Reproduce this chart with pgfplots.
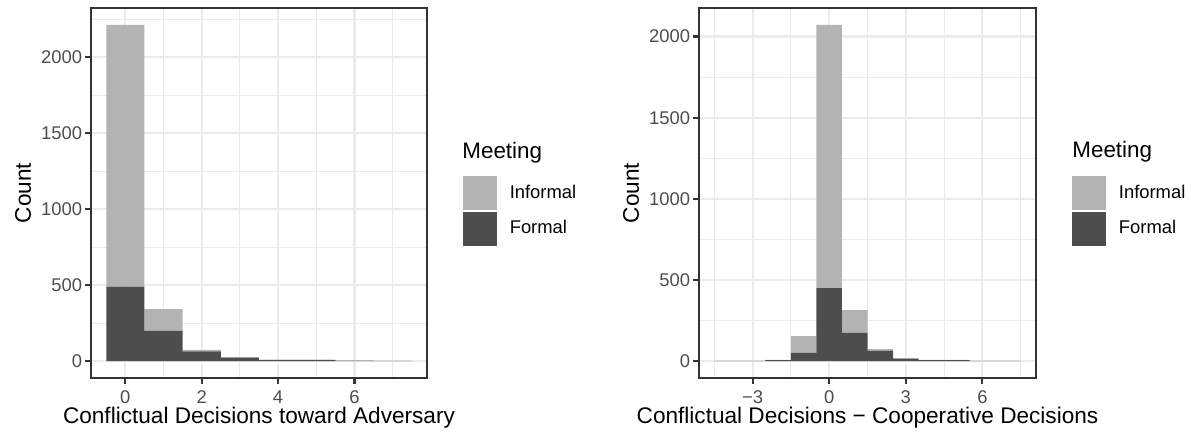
\documentclass[border=0pt]{standalone}
\usepackage{pgfplots}
\pgfplotsset{compat=1.18}
\usepackage{fontspec}
\setmainfont{Liberation Sans}
\definecolor{informal}{HTML}{B3B3B3}
\definecolor{formal}{HTML}{4D4D4D}
\definecolor{gridc}{HTML}{EBEBEB}
\definecolor{border}{HTML}{333333}
\definecolor{ticklab}{HTML}{4D4D4D}

\pgfplotstableread{
x formal informal
0 490 1723
1 199 144
2 64 11
3 23 4
4 8 1
5 8 1
6 3 0
7 2 0
}\lefttab

\pgfplotstableread{
x formal informal
-4 2 0
-3 2 0
-2 6 2
-1 51 104
0 450 1622
1 174 141
2 65 10
3 14 5
4 7 1
5 7 1
6 2 0
7 2 0
}\righttab

\pgfplotsset{
 ggstyle/.style={
  scale only axis, width=168pt, height=185pt,
  clip=false,
  axis line style={border, line width=1.07pt},
  tick align=outside, tick pos=left,
  major tick length=2.75pt, minor tick length=0pt,
  every tick/.style={border, line width=1.07pt},
  grid=both,
  major grid style={gridc, line width=1.07pt},
  minor grid style={gridc, line width=0.53pt},
  ticklabel style={font=\fontsize{9.2}{11}\selectfont, text=ticklab},
  yticklabel style={xshift=1.8pt},
  every axis x label/.style={at={(axis description cs:0.5,-0.1243)}, anchor=base,
     font=\fontsize{11.3}{13.5}\selectfont, text=black},
  every axis y label/.style={at={(axis description cs:-0.1786,0.5)}, rotate=90, anchor=base,
     font=\fontsize{11.3}{13.5}\selectfont, text=black},
  ylabel={Count},
  ytick={0,500,1000,1500,2000},
  yticklabels={0,500,1000,1500,2000},
  ybar stacked, bar width=1,
  legend style={at={(rel axis cs:1.1071,0.5459)}, anchor=north west,
    draw=none, fill=none, inner sep=0pt, outer sep=0pt,
    row sep=1pt, column sep=6.5pt,
    font=\fontsize{9.2}{11}\selectfont,
    nodes={inner sep=0pt, outer sep=0pt}},
  legend cell align=left,
 }
}

\begin{document}
\begin{tikzpicture}
\path[use as bounding box] (-45.5pt,-29pt) rectangle (550pt,189pt);
\begin{axis}[ggstyle, at={(0pt,0pt)}, anchor=south west,
  xmin=-0.9, xmax=7.9, ymin=-110.65, ymax=2323.65,
  xtick={0,2,4,6}, xticklabels={0,2,4,6},
  minor xtick={1,3,5,7},
  minor ytick={250,750,1250,1750,2250},
  xlabel={Conflictual Decisions toward Adversary}]
\addlegendimage{legend image code/.code={\fill[informal] (0pt,-8.25pt) rectangle (16.5pt,8.25pt);}}
\addlegendentry{Informal}
\addlegendimage{legend image code/.code={\fill[formal] (0pt,-8.25pt) rectangle (16.5pt,8.25pt);}}
\addlegendentry{Formal}
\addplot[fill=formal, draw=none, forget plot] table[x=x, y=formal] {\lefttab};
\addplot[fill=informal, draw=none, forget plot] table[x=x, y=informal] {\lefttab};
\node[anchor=base west, inner sep=0pt, font=\fontsize{11.2}{13.4}\selectfont] at (rel axis cs:1.1042,0.5946) {Meeting};
\end{axis}
\begin{axis}[ggstyle, at={(304pt,0pt)}, anchor=south west, width=168.5pt,
  xmin=-5.1, xmax=8.1, ymin=-103.6, ymax=2175.6,
  xtick={-3,0,3,6}, xticklabels={−3,0,3,6},
  minor xtick={-4.5,-1.5,1.5,4.5,7.5},
  minor ytick={250,750,1250,1750},
  xlabel={Conflictual Decisions − Cooperative Decisions}]
\addlegendimage{legend image code/.code={\fill[informal] (0pt,-8.25pt) rectangle (16.5pt,8.25pt);}}
\addlegendentry{Informal}
\addlegendimage{legend image code/.code={\fill[formal] (0pt,-8.25pt) rectangle (16.5pt,8.25pt);}}
\addlegendentry{Formal}
\addplot[fill=formal, draw=none, forget plot] table[x=x, y=formal] {\righttab};
\addplot[fill=informal, draw=none, forget plot] table[x=x, y=informal] {\righttab};
\node[anchor=base west, inner sep=0pt, font=\fontsize{11.2}{13.4}\selectfont] at (rel axis cs:1.1068,0.5946) {Meeting};
\end{axis}
\end{tikzpicture}
\end{document}
